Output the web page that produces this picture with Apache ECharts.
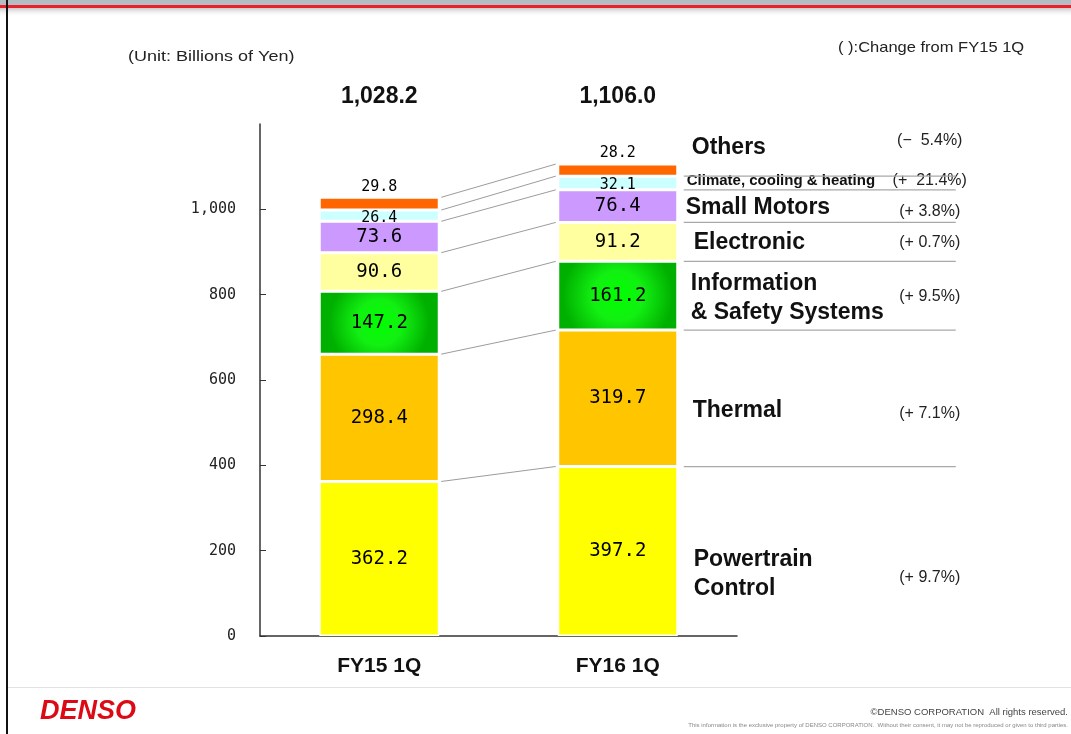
<!DOCTYPE html>
<html>
<head>
<meta charset="utf-8">
<script src="https://cdn.jsdelivr.net/npm/echarts@6/dist/echarts.min.js"></script>
<style>
  html, body { margin: 0; padding: 0; background: #fff; }
  #main { width: 1071px; height: 734px; }
</style>
</head>
<body>
<div id="main"></div>
<script>
// data
var categories = ['FY15 1Q', 'FY16 1Q'];
var segmentNames = ['Powertrain\nControl', 'Thermal', 'Information\n& Safety Systems', 'Electronic',
                    'Small Motors', 'Climate, cooling & heating', 'Others'];
var fy15 = [362.2, 298.4, 147.2, 90.6, 73.6, 26.4, 29.8];
var fy16 = [397.2, 319.7, 161.2, 91.2, 76.4, 32.1, 28.2];
var changes = ['(+ 9.7%)', '(+ 7.1%)', '(+ 9.5%)', '(+ 0.7%)', '(+ 3.8%)', '(+  21.4%)', '(\u2212  5.4%)'];
var yTicks = [0, 200, 400, 600, 800, 1000];

// styling
var segColors = [
  '#ffff00', '#ffc600',
  new echarts.graphic.RadialGradient(0.5, 0.5, 0.8, [
    {offset: 0, color: '#00ff00'}, {offset: 0.45, color: '#12f012'}, {offset: 1, color: '#00b000'}]),
  '#ffffa0', '#cc99ff', '#ccffff', '#ff6600'
];
var nameShift = [23, 12, 2, 1, 2, -2, -22];
var nameIndent = [16, 15, 13, 16, 8, 9, 14];
var pctShift = [26, 15, 1, 1, 5, -2, -30];
var BAR_W = 120;
var yMax = 1200;
var monoFont = 'DejaVu Sans Mono';
var sansFont = 'Liberation Sans, Arial, sans-serif';

function cum(arr, n) {
  var s = 0;
  for (var i = 0; i < n; i++) s += arr[i];
  return s;
}
var totals = [cum(fy15, fy15.length), cum(fy16, fy16.length)];
function fmtTotal(v) {
  return v.toFixed(1).replace(/\B(?=(\d{3})+(?!\d))/g, ',');
}

var series = [];
for (var i = 0; i < segmentNames.length; i++) {
  var small = (i >= 5);
  series.push({
    name: segmentNames[i],
    type: 'bar',
    stack: 'total',
    barWidth: BAR_W,
    data: [fy15[i], fy16[i]],
    itemStyle: {color: segColors[i], borderColor: '#fff', borderWidth: 1.5},
    label: {
      show: true,
      position: i === 6 ? 'top' : 'inside',
      distance: 3,
      offset: i === 5 ? [0, 2] : [0, 0],
      fontFamily: monoFont,
      fontSize: small ? 15 : 19,
      color: '#000',
      formatter: function (p) { return p.value.toFixed(1); }
    },
    z: 2
  });
}

// grey connector lines between the two bars
var linkData = [];
for (var k = 1; k <= fy15.length; k++) linkData.push([0, 0, k]);
series.push({
  type: 'custom',
  coordinateSystem: 'cartesian2d',
  silent: true,
  data: linkData,
  renderItem: function (params, api) {
    var k = api.value(2);
    var a = api.coord([0, cum(fy15, k)]);
    var b = api.coord([1, cum(fy16, k)]);
    return {
      type: 'line',
      shape: {x1: a[0] + BAR_W / 2 + 2, y1: a[1], x2: b[0] - BAR_W / 2 - 2, y2: b[1]},
      style: {stroke: '#9c9c9c', lineWidth: 1}
    };
  },
  z: 3
});

// names, changes and separators right of FY16 bar
var noteData = [];
for (var j = 0; j < fy16.length; j++) noteData.push([1, 0, j]);
series.push({
  type: 'custom',
  coordinateSystem: 'cartesian2d',
  silent: true,
  data: noteData,
  renderItem: function (params, api) {
    var j = api.value(2);
    var lo = cum(fy16, j), hi = cum(fy16, j + 1);
    var mid = api.coord([1, (lo + hi) / 2]);
    var bottom = api.coord([1, lo]);
    var right = mid[0] + BAR_W / 2;
    var kids = [];
    if (j > 0) {
      kids.push({
        type: 'line',
        shape: {x1: right + 6, y1: bottom[1], x2: right + 278, y2: bottom[1]},
        style: {stroke: '#a8a8a8', lineWidth: 1.2}
      });
    }
    var climate = (j === 5);
    kids.push({
      type: 'text',
      x: right + nameIndent[j],
      y: mid[1] + nameShift[j],
      style: {
        text: segmentNames[j],
        fontFamily: sansFont,
        fontWeight: 'bold',
        fontSize: climate ? 15 : 23,
        lineHeight: 29,
        fill: '#111',
        align: 'left',
        verticalAlign: 'middle'
      }
    });
    kids.push({
      type: 'text',
      x: right + 252,
      y: mid[1] + pctShift[j],
      style: {
        text: changes[j],
        fontFamily: sansFont,
        fontSize: 16,
        fill: '#222',
        align: 'center',
        verticalAlign: 'middle'
      }
    });
    return {type: 'group', children: kids};
  },
  z: 3
});

var myChart = echarts.init(document.getElementById('main'));

var option = {
  backgroundColor: '#fff',
  animation: false,
  grid: {left: 260, right: 334, top: 124, bottom: 98},
  xAxis: [
    {
      type: 'category',
      data: categories,
      axisLine: {lineStyle: {color: '#333', width: 1.5}},
      axisTick: {inside: true, length: 7, lineStyle: {color: '#333'}},
      axisLabel: {margin: 20, fontFamily: sansFont, fontWeight: 'bold', fontSize: 21, color: '#111'}
    },
    {
      type: 'category',
      position: 'top',
      data: categories,
      axisLine: {show: false},
      axisTick: {show: false},
      axisLabel: {
        margin: 16,
        fontFamily: sansFont, fontWeight: 'bold', fontSize: 23, color: '#111',
        formatter: function (v, idx) { return fmtTotal(totals[idx]); }
      }
    }
  ],
  yAxis: {
    type: 'value',
    min: yTicks[0],
    max: yMax,
    interval: yTicks[1] - yTicks[0],
    axisLine: {show: true, lineStyle: {color: '#333', width: 1.5}},
    axisTick: {show: true, inside: true, length: 6, customValues: yTicks, lineStyle: {color: '#333'}},
    splitLine: {show: false},
    axisLabel: {
      margin: 24,
      customValues: yTicks,
      fontFamily: monoFont,
      fontSize: 15,
      color: '#222',
      formatter: function (v) { return yTicks.indexOf(v) < 0 ? '' : v.toLocaleString('en-US'); }
    }
  },
  graphic: [
    // slide frame
    {type: 'rect', left: 0, top: 0, shape: {width: 1071, height: 5}, style: {fill: '#b4bcc4'}, silent: true},
    {type: 'rect', left: 0, top: 5, shape: {width: 1071, height: 3}, style: {fill: '#e8212b'}, silent: true},
    {type: 'rect', left: 0, top: 8, shape: {width: 1071, height: 9}, silent: true,
      style: {fill: new echarts.graphic.LinearGradient(0, 0, 0, 1, [
        {offset: 0, color: '#c9c9c9'}, {offset: 1, color: 'rgba(255,255,255,0)'}])}},
    {type: 'rect', left: 6, top: 0, shape: {width: 2, height: 734}, style: {fill: '#111'}, silent: true},
    {type: 'rect', left: 8, top: 687, shape: {width: 1063, height: 1}, style: {fill: '#e2e2e2'}, silent: true},
    // notes
    {type: 'text', left: 128, top: 49, scaleX: 1.2, style: {text: '(Unit: Billions of Yen)', fontFamily: sansFont, fontSize: 15, fill: '#222'}},
    {type: 'text', left: 838, top: 40, scaleX: 1.1, style: {text: '( ):Change from FY15 1Q', fontFamily: sansFont, fontSize: 15, fill: '#222'}},
    // footer
    {type: 'text', left: 40, top: 698, style: {text: 'DENSO', fontFamily: sansFont, fontWeight: 'bold', fontStyle: 'italic', fontSize: 27, fill: '#dc0a14'}},
    {type: 'text', right: 3, top: 707, style: {text: '\u00a9DENSO CORPORATION  All rights reserved.', fontFamily: sansFont, fontSize: 9.5, fill: '#444'}},
    {type: 'text', right: 3, top: 722, style: {text: 'This information is the exclusive property of DENSO CORPORATION.  Without their consent, it may not be reproduced or given to third parties.', fontFamily: sansFont, fontSize: 6, fill: '#888'}}
  ],
  series: series
};

myChart.setOption(option);
</script>
</body>
</html>
